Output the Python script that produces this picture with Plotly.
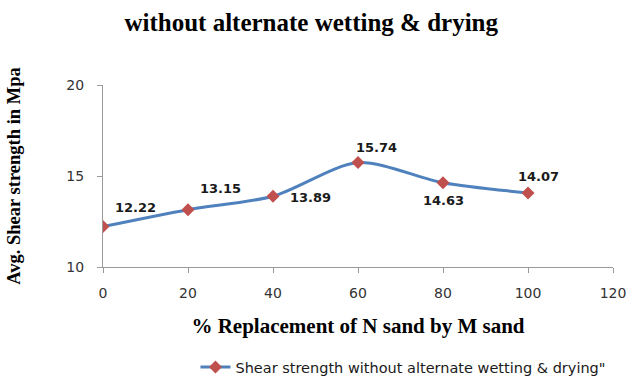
import plotly.graph_objects as go

# Shear strength test results
replacement_pct = [0, 20, 40, 60, 80, 100]
shear_strength = [12.22, 13.15, 13.89, 15.74, 14.63, 14.07]
# label offsets (px) for each value label
label_dx = [32, 32, 37, 18, 0, 10]
label_dy = [19, 21, -1, 15, -18, 16]

series_name = 'Shear strength without alternate wetting & drying"'

fig = go.Figure()
fig.add_trace(go.Scatter(
    x=replacement_pct, y=shear_strength, mode="lines+markers",
    name=series_name,
    line=dict(color="#4F81BD", width=3, shape="spline", smoothing=0.8),
    marker=dict(symbol="diamond", size=10, color="#C0504D",
                line=dict(color="#C0504D", width=0)),
))

for x, y, dx, dy in zip(replacement_pct, shear_strength, label_dx, label_dy):
    fig.add_annotation(x=x, y=y, text=f"<b>{y:.2f}</b>", showarrow=False,
                       xshift=dx, yshift=dy,
                       font=dict(family="DejaVu Sans", size=13, color="#1a1a1a"))

fig.update_layout(
    width=630, height=376,
    margin=dict(l=103, r=17, t=85, b=109, autoexpand=False),
    paper_bgcolor="white", plot_bgcolor="white",
    title=dict(text="<b>without alternate wetting & drying</b>",
               x=0.494, xanchor="center", y=0.94, yanchor="middle",
               font=dict(family="Liberation Serif", size=25, color="black")),
    xaxis=dict(range=[0, 120], tickvals=[0, 20, 40, 60, 80, 100, 120],
               showgrid=False, zeroline=False, showline=True,
               linecolor="#9a9a9a", linewidth=1,
               ticks="outside", ticklen=5, tickcolor="#9a9a9a",
               ticklabelstandoff=8,
               tickfont=dict(family="DejaVu Sans", size=14, color="#333333"),
               title=dict(text="<b>% Replacement of N sand by M sand</b>",
                          font=dict(family="Liberation Serif", size=21, color="black"),
                          standoff=18)),
    yaxis=dict(range=[10, 20], tickvals=[10, 15, 20],
               showgrid=False, zeroline=False, showline=True,
               linecolor="#9a9a9a", linewidth=1,
               ticks="outside", ticklen=5, tickcolor="#9a9a9a",
               ticklabelstandoff=10,
               tickfont=dict(family="DejaVu Sans", size=14, color="#333333"),
               title=dict(text="<b>Avg. Shear strength in Mpa</b>",
                          font=dict(family="Liberation Serif", size=18.5, color="black"),
                          standoff=40)),
    showlegend=True,
    legend=dict(orientation="h", x=0.997, xanchor="right", y=-0.55, yanchor="middle",
                font=dict(family="DejaVu Sans", size=14.5, color="#1a1a1a"),
                bgcolor="rgba(0,0,0,0)"),
)

fig.write_html("out.html")
